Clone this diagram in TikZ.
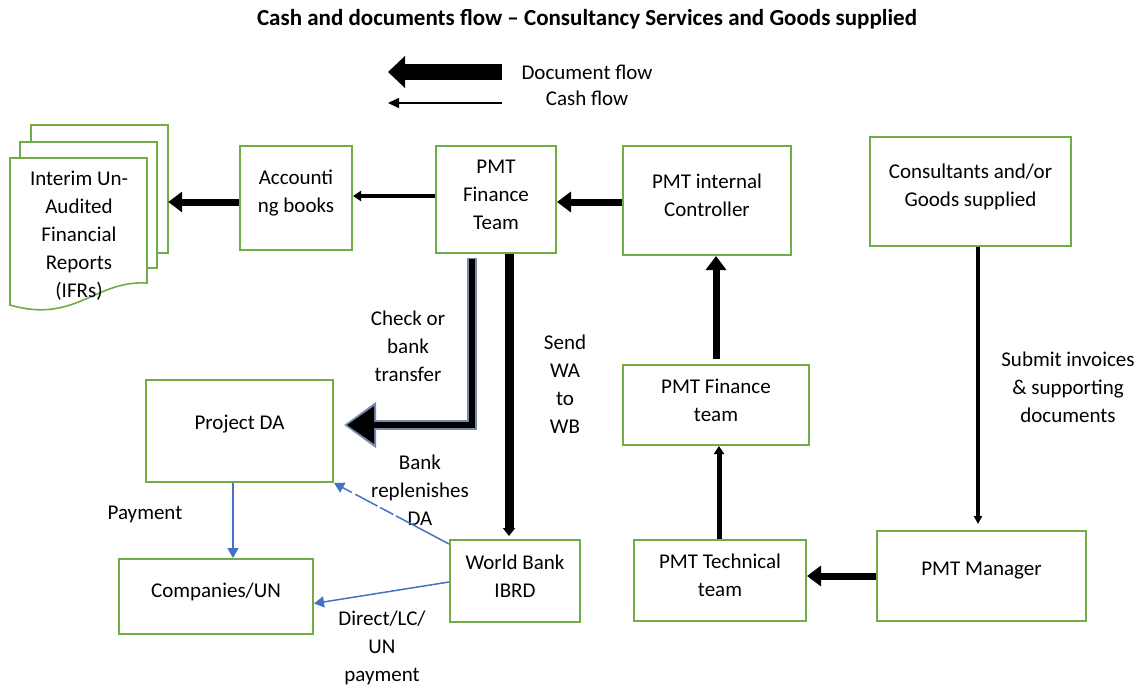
\documentclass[tikz,border=0pt]{standalone}
\usepackage{fontspec}
\setmainfont{Carlito}
\usetikzlibrary{
  arrows.meta,
  positioning,
  calc
}
\definecolor{boxgreen}{RGB}{112, 173, 71}
\definecolor{cashblue}{RGB}{68, 114, 196}
\definecolor{shadeblue}{RGB}{120, 138, 170}
\tikzset{
blocktext/.style={
  align=center,
  font=\fontsize{21}{28}\selectfont,
  text=black
},
boxtext/.style={
  blocktext,
  yshift=5pt
},
box/.style={
  draw=boxgreen,
  line width=2pt,
  fill=white
},
page/.style={
  draw=boxgreen,
  line width=1.6pt,
  fill=white
},
titlelabel/.style={
  font=\bfseries\fontsize{23}{28}\selectfont,
  align=center
},
flowlabel/.style={
  blocktext
},
docarrow/.style={
  -{Triangle[length=14pt,width=20pt]},
  line width=7pt,
  draw=black
},
thinarrow/.style={
  -{Triangle[length=8pt,width=10pt]},
  line width=4pt,
  draw=black
},
casharrow/.style={
  -{Triangle[length=10pt,width=11pt]},
  line width=1.5pt,
  draw=cashblue
}
}

\begin{document}
\begin{tikzpicture}[x=1pt,y=-1pt]
  \useasboundingbox (0,0) rectangle (1145,688);

  % title and legend
  \node[titlelabel] (title) at (587,19) {Cash and documents flow -- Consultancy Services and Goods supplied};
  \node[flowlabel] (legdoc) at (587,72) {Document flow};
  \node[flowlabel] (legcash) at (587,98) {Cash flow};
  \coordinate (legdocend) at (388,72);
  \coordinate (legcashend) at (388,103);
  \draw[-{Triangle[length=17pt,width=31pt]}, line width=16pt] (legdocend -| 502,0) -- (legdocend);
  \draw[-{Triangle[length=11pt,width=10pt]}, line width=1.2pt] (legcashend -| 502,0) -- (legcashend);

  % stack of reports
  \draw[page] (31,125) rectangle (168,253);
  \draw[page] (20,142) rectangle (157,268);
  \draw[page] (10,158) -- (147,158) -- (147,283)
    .. controls (95,280) and (75,324) .. (10,305) -- cycle;
  \node[blocktext] (ifr) at (79,236) {Interim Un-\\Audited\\Financial\\Reports\\(IFRs)};
  \node[minimum width=158pt, minimum height=191pt, inner sep=0pt] (ifrstack) at (89,220.5) {};

  % boxes
  \node[box, minimum width=112pt, minimum height=104pt,
    label={[boxtext]center:Accounti\\ng books}] (acc) at (296,198) {};
  \node[box, minimum width=120pt, minimum height=107pt,
    label={[boxtext]center:PMT\\Finance\\Team}] (pft) at (496,199.5) {};
  \node[box, minimum width=168pt, minimum height=109pt,
    label={[boxtext]center:PMT internal\\Controller}] (ctrl) at (707,200.5) {};
  \node[box, minimum width=201pt, minimum height=109pt,
    label={[boxtext]center:Consultants and/or\\Goods supplied}] (cons) at (970.5,191.5) {};
  \node[box, minimum width=187pt, minimum height=102pt,
    label={[boxtext,yshift=2pt]center:Project DA}] (pda) at (239.5,431) {};
  \node[box, minimum width=186pt, minimum height=80pt,
    label={[boxtext]center:PMT Finance\\team}] (pfm) at (716,405) {};
  \node[box, minimum width=194pt, minimum height=75pt,
    label={[boxtext]center:Companies/UN}] (comp) at (216,596.5) {};
  \node[box, minimum width=130pt, minimum height=82pt,
    label={[boxtext]center:World Bank\\IBRD}] (wb) at (515,581) {};
  \node[box, minimum width=172pt, minimum height=81pt,
    label={[boxtext]center:PMT Technical\\team}] (tech) at (720,580.5) {};
  \node[box, minimum width=209pt, minimum height=90pt,
    label={[boxtext]center:PMT Manager}] (mgr) at (981.5,576) {};

  % labels
  \node[flowlabel] (lblcheck) at (408,346) {Check or\\bank\\transfer};
  \node[flowlabel] (lblsend) at (565,384.5) {Send\\WA\\to\\WB};
  \node[flowlabel] (lblrepl) at (420,490) {Bank\\replenishes\\DA};
  \node[flowlabel] (lblpay) at (145,514) {Payment};
  \node[flowlabel] (lbldirect) at (382,648) {Direct/LC/\\UN\\payment};
  \node[flowlabel] (lblsubmit) at (1068,387.5) {Submit invoices\\\& supporting\\documents};

  % document flow
  \draw[docarrow] (acc.west |- 0,202) -- (ifrstack.east |- 0,202);
  \draw[thinarrow] (pft.west |- 0,196) -- (acc.east |- 0,196);
  \draw[docarrow] (ctrl.west |- 0,202) -- (pft.east |- 0,202);
  \draw[docarrow] ([yshift=5pt]pfm.north) -- (pfm.north |- ctrl.south);
  \draw[thinarrow, line width=5pt] (tech.north -| 719,0) -- (pfm.south -| 719,0);
  \draw[docarrow] (mgr.west) -- (mgr.west -| tech.east);
  \draw[thinarrow, -{Triangle[length=8pt,width=8pt]}] (cons.south -| 978,0) -- ([yshift=6pt]mgr.north -| 978,0);
  \draw[thinarrow, line width=9pt, -{Triangle[length=8pt,width=12pt]}] (pft.south -| 509,0) -- ([yshift=3pt]wb.north -| 509,0);
  \draw[line width=10pt, draw=shadeblue, -{Triangle[length=32pt,width=44pt]}]
    ([yshift=-4pt]pft.south -| 472,0) |- ([shift={(10,-6)}]pda.east);
  \draw[line width=6pt, -{Triangle[length=27pt,width=36pt]}]
    ([yshift=-5pt]pft.south -| 472,0) |- ([shift={(13,-6)}]pda.east);

  % cash flow
  \draw[casharrow] (pda.south -| 233,0) -- (comp.north -| 233,0);
  \draw[casharrow] ([yshift=-1pt]wb.west) -- ([yshift=-7pt]comp.east);
  \draw[casharrow, dash pattern=on 60pt off 3pt on 15pt off 3pt on 25pt off 4pt]
    ([yshift=-5pt]wb.north west) -- (pda.south east);
\end{tikzpicture}
\end{document}
